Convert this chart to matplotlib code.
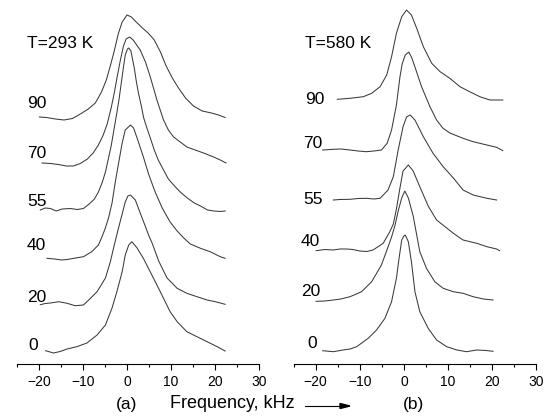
import numpy as np
import matplotlib.pyplot as plt
from matplotlib.ticker import MultipleLocator

plt.rcParams['font.family'] = ['Liberation Sans', 'DejaVu Sans']

# ---- panel (a): T = 293 K, spectra shifted vertically (a.u.) ----
freq_a_90 = [-19.9, -18.3, -16.3, -14.3, -12.4, -10.6, -8.8, -7.2, -5.8, -4.7, -3.8, -2.9, -2.0, -1.1, 0.0,
             1.0, 2.1, 3.5, 4.8, 6.2, 7.6, 8.9, 10.3, 11.7, 13.3, 15.1, 17.1, 19.2, 20.8, 22.3]
int_a_90 = [247, 246.5, 245, 244, 245.5, 250, 255, 261, 272, 284, 298, 313, 330, 342, 349,
            347, 342, 336, 331, 324, 312, 298, 286, 276, 266, 258, 253, 251, 249, 246.5]

freq_a_70 = [-19.3, -17.4, -15.6, -13.8, -12.2, -10.6, -9.0, -7.7, -6.5, -5.4, -4.5, -3.6, -2.9, -2.2, -1.5,
             -0.8, -0.2, 0.6, 1.4, 2.2, 3.0, 4.2, 5.3, 6.8, 8.3, 9.4, 10.6, 12.1, 13.6, 15.5, 17.4,
             19.7, 21.2, 22.5]
int_a_70 = [201, 200.5, 199.5, 198, 198, 200.5, 205, 211, 219, 229, 240, 256, 271, 288, 304,
            318, 325, 327, 324, 319, 314, 302, 287, 264, 244, 234, 227, 222, 217, 214, 211,
            207, 204, 201]

freq_a_55 = [-19.7, -18.6, -17.4, -16.1, -14.7, -12.9, -11.3, -9.9, -8.6, -7.4, -6.5, -5.6, -4.9, -4.3,
             -3.6, -2.9, -2.2, -1.8, -1.3, -0.8, -0.4, 0.1, 0.4, 0.9, 1.2, 1.7, 2.1, 2.6, 3.3, 3.8, 4.6,
             5.3, 6.2, 7.1, 8.3, 9.4, 10.8, 12.1, 13.7, 15.3, 16.7, 18.3, 19.8, 21.2, 22.3]
int_a_55 = [154, 156, 155.5, 153, 155, 155.5, 154.5, 155.5, 160, 165, 172, 182, 192, 204,
            218, 236, 254, 265, 281, 297, 309, 315, 316, 313, 306, 295, 283, 271, 257, 246, 235,
            226, 214, 204, 194, 185, 178, 172, 166, 161, 158, 154, 153, 152.5, 153]

freq_a_40 = [-18.2, -16.5, -14.8, -13.6, -12.1, -9.9, -8.0, -6.5, -5.7, -5.0, -4.2, -3.4, -2.7, -1.9,
             -1.1, -0.4, 0.8, 1.5, 2.6, 3.8, 4.9, 6.4, 8.0, 9.8, 11.4, 12.9, 14.4, 16.7, 18.9, 21.2, 22.3]
int_a_40 = [105.7, 105, 104, 104.5, 105.7, 107.3, 112.3, 119, 127, 135, 146, 161, 181, 201,
            221, 234, 239, 236, 222, 206, 190, 172, 156, 142, 133, 126, 120, 115.7, 112.3, 107.3, 105.7]

freq_a_20 = [-19.7, -18.6, -17.4, -15.5, -13.6, -11.8, -9.9, -8.7, -6.8, -4.9, -3.8, -3.0, -2.1, -1.1,
             -0.4, 0.2, 0.8, 1.9, 3.0, 4.2, 4.9, 5.7, 7.2, 9.1, 11.4, 13.6, 15.9, 18.2, 20.1, 22.3]
int_a_20 = [59.3, 60.5, 61, 62.3, 60.7, 58.3, 59, 64, 72.3, 86, 102, 117, 133, 150,
            162, 168, 169, 164, 151, 137.3, 129, 121, 103, 86, 75.7, 70.7, 67.3, 64, 62.3, 59.7]

freq_a_0 = [-18.5, -16.7, -15.2, -13.6, -11.4, -9.1, -6.8, -4.9, -3.4, -2.3, -1.1, -0.4, 0.4, 1.1,
            2.3, 3.8, 5.3, 6.8, 8.3, 9.8, 11.4, 13.6, 15.9, 18.2, 20.5, 22.3]
int_a_0 = [13.3, 11, 12.5, 15, 17.3, 21, 29, 39, 56, 72.3, 92.3, 109, 119, 122.3,
           116, 105, 92, 79, 65.7, 52.3, 42.3, 32.3, 27.3, 22.3, 17.3, 13]

# ---- panel (b): T = 580 K ----
freq_b_90 = [-15.1, -12.2, -9.2, -7.3, -5.4, -3.9, -2.8, -1.7, -0.5, 0.6, 1.7, 2.9, 4.4, 6.3, 8.2,
             10.4, 12.7, 14.9, 17.2, 19.5, 22.4]
int_b_90 = [264.7, 265.7, 267.3, 270.7, 277.3, 289, 307.3, 330.7, 347.3, 354, 349, 335.7, 317.3, 300.7,
            292.3, 285.7, 277.3, 272.3, 267.3, 264, 264]

freq_b_70 = [-18.4, -16.0, -14.3, -12.2, -10.4, -8.5, -6.8, -5.1, -3.8, -2.8, -1.7, -0.9, -0.4, 0.3,
             1.1, 1.8, 2.5, 4.0, 5.9, 7.4, 8.8, 10.4, 13.4, 15.7, 18.8, 21.0, 22.4]
int_b_70 = [214, 214.7, 215, 214, 213, 212.3, 213, 214, 220.7, 234, 259, 287, 300, 309,
            312, 306, 297, 277.3, 257.3, 244, 236, 231, 225.7, 222.3, 219, 216.7, 213.3]

freq_b_55 = [-16.0, -14.5, -12.2, -10.4, -8.5, -6.8, -5.4, -3.6, -2.4, -1.3, -0.2, 0.6, 1.4, 2.5,
             4.4, 6.6, 8.9, 11.2, 13.4, 15.7, 18.8, 21.0]
int_b_55 = [164, 164.5, 164.7, 165.5, 165.7, 165, 165.7, 174, 187.3, 214, 237.3, 247, 249, 244,
            227.3, 210.7, 197.3, 186, 174, 169, 165.7, 164]

freq_b_40 = [-19.9, -17.9, -16.0, -14.5, -13.0, -11.6, -10.0, -8.4, -7.0, -4.7, -3.2, -2.4, -1.7, -0.9,
             -0.2, 1.0, 2.1, 3.6, 5.5, 7.4, 9.7, 11.2, 13.4, 16.5, 18.8, 21.0, 21.7]
int_b_40 = [113.3, 114.5, 114, 115, 115, 114.5, 113, 112.5, 114, 120.7, 132.3, 140, 155, 176,
            193, 199, 193, 177.3, 158, 144, 136, 130.7, 124, 120.7, 117.3, 115, 113.3]

freq_b_20 = [-19.9, -17.9, -16.0, -14.3, -12.2, -9.6, -7.3, -5.1, -3.6, -2.8, -2.0, -1.3, -0.5, 0.2,
             1.0, 2.1, 2.9, 3.6, 5.1, 7.0, 8.9, 11.2, 13.4, 15.7, 18.0, 20.2]
int_b_20 = [62.7, 63, 64, 65, 67.3, 72.3, 82.3, 99, 117, 127, 139, 153, 166, 173,
            166, 148, 129, 112.3, 95.7, 82.3, 75.7, 72.3, 70.7, 67.3, 65, 64]

freq_b_0 = [-18.4, -16.0, -13.8, -12.2, -10.7, -8.1, -6.2, -4.3, -2.8, -1.7, -1.1, -0.5, 0.0, 0.3,
            1.0, 1.7, 2.5, 3.6, 5.5, 7.4, 9.7, 12.0, 14.2, 16.5, 18.6, 20.2]
int_b_0 = [13.3, 12.3, 14, 15, 17.3, 25.7, 34, 45.7, 62.3, 85.7, 105.7, 124, 128, 129,
           122.3, 102.3, 72.3, 52.3, 35.7, 24, 17.3, 14, 12.3, 14, 13.5, 12.7]

angles = ['90', '70', '55', '40', '20', '0']
temps = ['T=293 K', 'T=580 K']

spectra_a = [(freq_a_90, int_a_90), (freq_a_70, int_a_70), (freq_a_55, int_a_55),
             (freq_a_40, int_a_40), (freq_a_20, int_a_20), (freq_a_0, int_a_0)]
spectra_b = [(freq_b_90, int_b_90), (freq_b_70, int_b_70), (freq_b_55, int_b_55),
             (freq_b_40, int_b_40), (freq_b_20, int_b_20), (freq_b_0, int_b_0)]

label_y_a = [260, 210, 163, 118, 67, 18]
label_x_a = [-22.7, -22.7, -22.7, -22.7, -22.7, -22.5]
label_y_b = [264, 220, 165, 122, 72, 20]
label_x_b = [-22.4, -22.9, -22.9, -23.4, -23.4, -21.8]

fig = plt.figure(figsize=(5.46, 4.16), dpi=100)
W, H = 546.0, 416.0
ax_a = fig.add_axes([17 / W, 52 / H, 242 / W, 364 / H])
ax_b = fig.add_axes([293.6 / W, 52 / H, 242.7 / W, 364 / H])

line_color = '#3a3a3a'
for ax, spectra, temp, lx, ly in [(ax_a, spectra_a, temps[0], label_x_a, label_y_a),
                                  (ax_b, spectra_b, temps[1], label_x_b, label_y_b)]:
    for (f, s) in spectra:
        ax.plot(f, s, color=line_color, lw=0.75)
    for i, ang in enumerate(angles):
        ax.text(lx[i], ly[i], ang, fontsize=12.5, ha='left', va='center')
    ax.text(lx[0], 321, temp, fontsize=12.5, ha='left', va='center')
    ax.set_xlim(-25, 30)
    ax.set_ylim(0, 364)
    ax.xaxis.set_major_locator(MultipleLocator(10))
    ax.xaxis.set_minor_locator(MultipleLocator(5))
    ax.tick_params(axis='x', which='major', direction='out', length=4, width=0.8, labelsize=10, pad=4)
    ax.tick_params(axis='x', which='minor', direction='out', length=2.3, width=0.8)
    ax.set_yticks([])
    for side in ['left', 'right', 'top']:
        ax.spines[side].set_visible(False)
    ax.spines['bottom'].set_linewidth(0.8)
    ax.patch.set_alpha(0)

fig.text(126.7 / W, 1 - 405 / H, '(a)', fontsize=12.5, ha='center', va='center')
fig.text(413 / W, 1 - 405 / H, '(b)', fontsize=12.5, ha='center', va='center')
fig.text(170 / W, 1 - 404 / H, 'Frequency, kHz', fontsize=13, ha='left', va='center')
fig.add_artist(plt.Line2D([305 / W, 342 / W], [1 - 406 / H, 1 - 406 / H], color='black', lw=0.8))
fig.patches.append(plt.Polygon([[340 / W, 1 - 403.5 / H], [350 / W, 1 - 406 / H], [340 / W, 1 - 408.5 / H]],
                               closed=True, color='black', transform=fig.transFigure, figure=fig))

fig.savefig('out.png', dpi=100)
